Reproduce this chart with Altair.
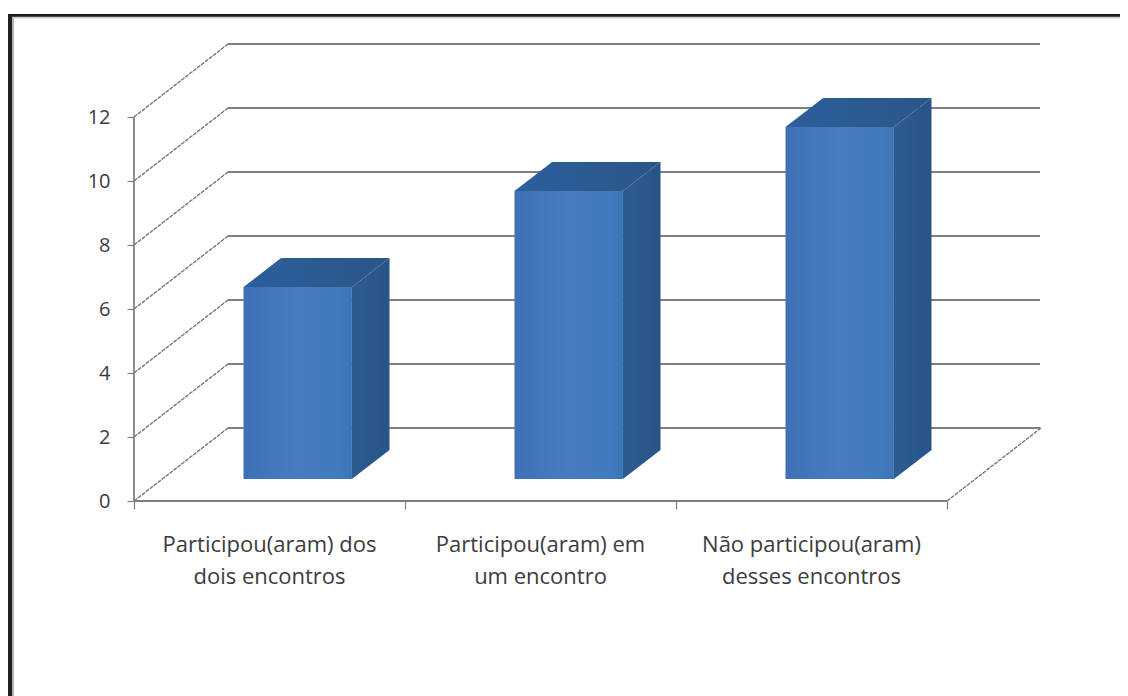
import altair as alt
import pandas as pd

categories = ["Participou(aram) dos\ndois encontros", "Participou(aram) em\num encontro", "Não participou(aram)\ndesses encontros"]
values = [6, 9, 11]
y_ticks = [0, 2, 4, 6, 8, 10, 12]
x_ticks = [0, 1, 2, 3]

W, H = 906, 457
UX, UY = 271.0, 32.0
DX, DV = 94 / UX, 73 / UY
XMAX, YMAX = W / UX, H / UY
D0, D1 = 0.3, 0.7
B0, B1 = 0.3, 0.7
GRID = "#7f7f7f"
TXT = "#3c3c3c"
FONT = "Open Sans"

xs = alt.Scale(domain=[0, XMAX], nice=False, zero=False)
ys = alt.Scale(domain=[0, YMAX], nice=False, zero=False)
AX = alt.Axis(values=x_ticks, labels=False, domain=False, grid=False, ticks=True, tickSize=8,
              tickColor=GRID, tickWidth=1.2, title=None)
AY = alt.Axis(values=y_ticks, domain=False, grid=False, tickSize=7, tickColor=GRID, tickWidth=1.2,
              labelFontSize=20, labelFont=FONT, labelColor=TXT, labelPadding=17, title=None)
X = lambda f: alt.X(f, type="quantitative", scale=xs, axis=AX)
Y = lambda f: alt.Y(f, type="quantitative", scale=ys, axis=AY)
X2 = lambda f: alt.X2(f)
Y2 = lambda f: alt.Y2(f)

ticks = pd.DataFrame({"v": y_ticks})
ticks["bx"] = DX
ticks["xe"] = XMAX
ticks["x0"] = 0.0
ticks["vb"] = ticks.v + DV

back = alt.Chart(ticks).mark_rule(color=GRID, strokeWidth=1.9).encode(
    x=X("bx"), x2=X2("xe"), y=Y("vb"))
diag = alt.Chart(ticks).mark_rule(color="#6f6f6f", strokeWidth=1.3, strokeDash=[4, 1]).encode(
    x=X("x0"), x2=X2("bx"), y=Y("v"), y2=Y2("vb"))
frame_axes = pd.DataFrame({"x0": [0.0, 0.0], "x1": [0.0, 3.0], "y0": [0.0, 0.0], "y1": [12.0, 0.0]})
axes_lines = alt.Chart(frame_axes).mark_rule(color=GRID, strokeWidth=1.8).encode(
    x=X("x0"), x2=X2("x1"), y=Y("y0"), y2=Y2("y1"))
floor_end = pd.DataFrame({"x0": [3.0], "x1": [3.0 + DX], "y0": [0.0], "y1": [DV]})
floor_line = alt.Chart(floor_end).mark_rule(color="#6f6f6f", strokeWidth=1.3, strokeDash=[4, 1]).encode(
    x=X("x0"), x2=X2("x1"), y=Y("y0"), y2=Y2("y1"))

bars = pd.DataFrame({"i": range(len(values)), "v": values})
bars["xa"] = bars.i + B0 + D0 * DX
bars["xb"] = bars.i + B1 + D0 * DX
bars["xc"] = bars.i + B0 + D1 * DX
bars["xd"] = bars.i + B1 + D1 * DX
bars["base0"] = D0 * DV
bars["top0"] = bars.v + D0 * DV
bars["base1"] = D1 * DV
bars["top1"] = bars.v + D1 * DV

front_fill = alt.Gradient(gradient="linear", x1=0, x2=1, y1=0, y2=0, stops=[
    alt.GradientStop(color="#3f70b6", offset=0), alt.GradientStop(color="#477cbe", offset=0.5),
    alt.GradientStop(color="#407abd", offset=0.9), alt.GradientStop(color="#3c74b6", offset=1)])
side_fill = alt.Gradient(gradient="linear", x1=0, x2=1, y1=0, y2=0, stops=[
    alt.GradientStop(color="#2d5c94", offset=0), alt.GradientStop(color="#285487", offset=1)])
top_fill = alt.Gradient(gradient="linear", x1=0, x2=1, y1=0, y2=0, stops=[
    alt.GradientStop(color="#2d5f9c", offset=0), alt.GradientStop(color="#2a5788", offset=1)])

front = alt.Chart(bars).mark_rect(color=front_fill).encode(
    x=X("xa"), x2=X2("xb"), y=Y("base0"), y2=Y2("top0"))

side_rows, top_rows = [], []
for r in bars.itertuples():
    side_rows += [{"i": r.i, "x": r.xb, "lo": r.base0, "hi": r.top0}, {"i": r.i, "x": r.xd, "lo": r.base1, "hi": r.top1}]
    top_rows += [{"i": r.i, "y": r.top0, "l": r.xa, "h": r.xb}, {"i": r.i, "y": r.top1, "l": r.xc, "h": r.xd}]

side = alt.Chart(pd.DataFrame(side_rows)).mark_area(color=side_fill, orient="vertical").encode(
    x=X("x"), y=Y("lo"), y2=Y2("hi"), detail="i:N")
top = alt.Chart(pd.DataFrame(top_rows)).mark_area(color=top_fill, orient="horizontal").encode(
    y=Y("y"), x=X("l"), x2=X2("h"), detail="i:N")

labels = pd.DataFrame({"x": [i + 0.5 for i in range(len(categories))], "t": categories})
text = alt.Chart(labels).mark_text(font=FONT, fontSize=22, color=TXT, align="center", baseline="middle",
                                   lineBreak="\n", lineHeight=32).encode(
    x=X("x"), y=alt.value(H + 44), text="t:N")

edge = pd.DataFrame({"a": [1]})
fr = [
    alt.Chart(edge).mark_rule(color="#231f20", strokeWidth=4).encode(x=alt.value(-124), y=alt.value(-30), y2=alt.value(H + 195)),
    alt.Chart(edge).mark_rule(color="#231f20", strokeWidth=3).encode(y=alt.value(-28.5), x=alt.value(-126), x2=alt.value(W + 80)),
    alt.Chart(edge).mark_rule(color="#b5b5b5", strokeWidth=2).encode(x=alt.value(-121), y=alt.value(-27), y2=alt.value(H + 195)),
    alt.Chart(edge).mark_rule(color="#c8c8c8", strokeWidth=1.5).encode(y=alt.value(-26.5), x=alt.value(-122), x2=alt.value(W + 80)),
]

chart = alt.layer(back, diag, axes_lines, floor_line, front, side, top, text, *fr).properties(
    width=W, height=H, autosize=alt.AutoSizeParams(type="none"),
    padding={"left": 126, "top": 36, "right": 80, "bottom": 195},
    background="#ffffff",
).configure_view(stroke=None)

chart.save("out.html", embed_options={"renderer": "svg", "actions": False})
